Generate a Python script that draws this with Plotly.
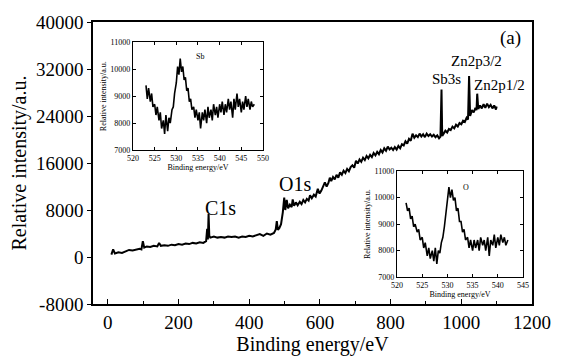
import plotly.graph_objects as go

# Main survey spectrum (binding energy eV, intensity a.u.)
energy = [10, 15, 20, 30, 40, 50, 60, 70, 80, 90, 95, 99, 103, 110, 120, 130, 140, 145, 150, 160,
          170, 180, 190, 200, 210, 220, 230, 240, 250, 260, 270, 278, 281, 283, 285, 287, 290, 300,
          310, 320, 330, 340, 350, 360, 370, 380, 390, 400, 410, 420, 430, 440, 450, 460, 470, 475,
          478, 481, 485, 490, 495, 499, 502, 506, 510, 515, 520, 523, 527, 532, 537, 543, 548, 553,
          558, 563, 568, 572, 577, 583, 588, 594, 599, 604, 609, 614, 619, 624, 628, 632, 637, 642,
          647, 652, 657, 662, 667, 672, 677, 682, 687, 692, 697, 702, 707, 712, 717, 722, 727, 732,
          737, 742, 747, 752, 757, 762, 767, 772, 777, 782, 787, 792, 797, 802, 807, 812, 817, 822,
          827, 832, 837, 842, 847, 852, 857, 862, 867, 872, 877, 882, 887, 892, 897, 902, 907, 912,
          917, 922, 927, 932, 937, 941, 944, 946, 950, 955, 960, 965, 970, 975, 980, 985, 990, 995,
          1000, 1005, 1010, 1015, 1019, 1022, 1025, 1030, 1035, 1040, 1043, 1045, 1048, 1053, 1058,
          1063, 1068, 1073, 1078, 1083, 1088, 1093, 1098, 1100]
intensity = [400, 1300, 600, 800, 700, 1000, 1200, 1100, 1300, 1400, 1300, 2700, 1600, 1800, 1700,
             1900, 1800, 2400, 1900, 2000, 1900, 2100, 2000, 2200, 2100, 2300, 2200, 2400, 2300, 2500,
             2400, 2700, 4800, 3000, 7300, 3600, 3300, 3500, 3300, 3400, 3300, 3500, 3400, 3500, 3300,
             3500, 3400, 3600, 3500, 3700, 3900, 3600, 4000, 3800, 4100, 4700, 6100, 4600, 4900, 5600,
             7600, 10100, 8000, 9700, 8300, 8900, 8500, 9800, 8700, 9300, 8800, 9400, 9000, 9700, 9300,
             9900, 9600, 10500, 10000, 10600, 10300, 11600, 10800, 11300, 11900, 12700, 12000, 12600,
             13500, 12900, 13600, 13200, 14000, 13500, 14400, 14000, 14700, 14300, 15000, 14600, 15300,
             15600, 15200, 16400, 15900, 16600, 16200, 16900, 16500, 17200, 16800, 17400, 17000, 17700,
             17300, 17900, 17500, 18200, 17800, 18500, 18100, 18800, 18300, 18600, 18200, 18700, 18300,
             18900, 18500, 19200, 19000, 19700, 19300, 20100, 19800, 21000, 20300, 20700, 20400, 21000,
             20500, 20900, 20400, 21000, 20600, 20900, 20500, 20800, 20400, 20700, 20200, 20500, 28500,
             20600, 21000, 21500, 21200, 21800, 21600, 22200, 21900, 22500, 22200, 22800, 22600, 23200,
             23000, 23700, 23400, 30800, 24000, 25000, 24600, 25400, 25000, 27800, 25200, 25800, 25300,
             26000, 25400, 26100, 25500, 25900, 25300, 25800, 25100, 25600]

# Sb inset
sb_energy = [523.0, 523.3, 523.6, 524.0, 524.3, 524.6, 525.0, 525.3, 525.6, 526.0, 526.3, 526.6, 527.0,
             527.3, 527.6, 528.0, 528.3, 528.6, 529.0, 529.3, 529.6, 530.0, 530.3, 530.6, 530.9, 531.2,
             531.5, 531.8, 532.1, 532.4, 532.7, 533.0, 533.3, 533.6, 534.0, 534.3, 534.6, 535.0, 535.3,
             535.6, 536.0, 536.3, 536.6, 537.0, 537.3, 537.6, 538.0, 538.3, 538.6, 539.0, 539.3, 539.6,
             540.0, 540.3, 540.6, 541.0, 541.3, 541.6, 542.0, 542.3, 542.6, 543.0, 543.3, 543.6, 544.0,
             544.3, 544.6, 545.0, 545.3, 545.6, 546.0, 546.3, 546.6, 547.0, 547.3, 547.6, 548.0]
sb_intensity = [9400, 8900, 9300, 8800, 9100, 8600, 8700, 8300, 8600, 8100, 8400, 7800, 8100, 7600,
                8300, 7700, 8200, 8000, 8500, 8600, 9100, 9500, 10100, 9800, 10400, 9900, 10100, 9600,
                9700, 9200, 9300, 8800, 8900, 8500, 8600, 8200, 8500, 8100, 8400, 7800, 8400, 8100, 8500,
                8000, 8600, 8200, 8500, 8100, 8700, 8300, 8600, 8200, 8700, 8400, 8800, 8300, 8700, 8400,
                8900, 8500, 8800, 8200, 8900, 8500, 9100, 8600, 8900, 8400, 8800, 8500, 9000, 8600, 8900,
                8500, 8800, 8600, 8700]

# O inset
o_energy = [521.8, 522.1, 522.4, 522.7, 523.0, 523.3, 523.6, 524.0, 524.3, 524.6, 525.0, 525.3, 525.6,
            526.0, 526.3, 526.6, 527.0, 527.3, 527.6, 527.9, 528.2, 528.5, 528.8, 529.1, 529.4, 529.7,
            530.0, 530.3, 530.6, 530.9, 531.2, 531.5, 531.8, 532.1, 532.4, 532.7, 533.0, 533.3, 533.6,
            534.0, 534.3, 534.6, 535.0, 535.3, 535.6, 536.0, 536.3, 536.6, 537.0, 537.3, 537.6, 538.0,
            538.3, 538.6, 539.0, 539.3, 539.6, 540.0, 540.3, 540.6, 541.0, 541.3, 541.6, 542.0]
o_intensity = [9800, 9500, 9600, 9200, 9300, 8900, 9000, 8700, 8800, 8400, 8500, 8100, 8300, 7800, 8100,
               7700, 8000, 7600, 8100, 7500, 8000, 7900, 8300, 8500, 8900, 9400, 9800, 10400, 10000,
               10300, 9900, 10000, 9500, 9600, 9100, 9100, 8700, 8800, 8400, 8500, 8100, 8400, 8000,
               8400, 8100, 8400, 8000, 8500, 8200, 8400, 8000, 8500, 7800, 8400, 8200, 8600, 8100, 8500,
               8200, 8600, 8300, 8500, 8200, 8400]

main_xticks = [0, 200, 400, 600, 800, 1000, 1200]
main_yticks = [-8000, 0, 8000, 16000, 24000, 32000, 40000]
main_ylabels = ["-8000", "0", "8000", "16000", "24000", "32000", "40000"]
inset_yticks = [7000, 8000, 9000, 10000, 11000]
inset_ylabels = ["7000", "8000", "9000", "10000", "11000"]
sb_xticks = [520, 525, 530, 535, 540, 545, 550]
o_xticks = [520, 525, 530, 535, 540, 545]

FONT = "Times New Roman, Liberation Serif, serif"
line = dict(color="black", width=2)

fig = go.Figure()
fig.add_trace(go.Scatter(x=energy, y=intensity, mode="lines", line=line, xaxis="x", yaxis="y"))
fig.add_trace(go.Scatter(x=sb_energy, y=sb_intensity, mode="lines", line=dict(color="black", width=1.6),
                         xaxis="x2", yaxis="y2"))
fig.add_trace(go.Scatter(x=o_energy, y=o_intensity, mode="lines", line=dict(color="black", width=1.6),
                         xaxis="x3", yaxis="y3"))

main_ax = dict(showline=True, linecolor="black", linewidth=1.5, mirror=True, showgrid=False,
               zeroline=False, tickcolor="black", tickfont=dict(family=FONT, size=19, color="black"))
inset_ax = dict(showline=True, linecolor="black", linewidth=1.2, mirror="ticks", showgrid=False,
                zeroline=False, ticks="inside", ticklen=3, tickcolor="black",
                tickfont=dict(family=FONT, size=8, color="black"))

fig.update_layout(
    width=564, height=363,
    margin=dict(l=93, r=32, t=12, b=58),
    paper_bgcolor="white", plot_bgcolor="white",
    showlegend=False,
    font=dict(family=FONT, color="black"),
    xaxis=dict(main_ax, domain=[0, 1], range=[-42, 1200], tickvals=main_xticks,
               ticktext=[str(v) for v in main_xticks], ticks="inside", ticklen=5, mirror=True,
               minor=dict(dtick=100, tick0=0, ticks="inside", ticklen=3, tickcolor="black"),
               title=dict(text="Binding energy/eV", font=dict(family=FONT, size=20), standoff=4)),
    yaxis=dict(main_ax, domain=[0, 1], range=[-8000, 40000], tickvals=main_yticks,
               ticktext=main_ylabels, ticks="outside", ticklen=4,
               title=dict(text="Relative intensity/a.u.", font=dict(family=FONT, size=20), standoff=4)),
    xaxis2=dict(inset_ax, domain=[0.0911, 0.3872], anchor="y2", range=[520, 550], tickvals=sb_xticks,
                ticktext=[str(v) for v in sb_xticks],
                title=dict(text="Binding energy/eV", font=dict(family=FONT, size=8), standoff=2)),
    yaxis2=dict(inset_ax, domain=[0.546, 0.928], anchor="x2", range=[7000, 11000], tickvals=inset_yticks,
                ticktext=inset_ylabels,
                title=dict(text="Relative intensity/a.u.", font=dict(family=FONT, size=8), standoff=2)),
    xaxis3=dict(inset_ax, domain=[0.6925, 0.9795], anchor="y3", range=[520, 545], tickvals=o_xticks,
                ticktext=[str(v) for v in o_xticks],
                title=dict(text="Binding energy/eV", font=dict(family=FONT, size=8), standoff=2)),
    yaxis3=dict(inset_ax, domain=[0.0956, 0.471], anchor="x3", range=[7000, 11000], tickvals=inset_yticks,
                ticktext=inset_ylabels,
                title=dict(text="Relative intensity/a.u.", font=dict(family=FONT, size=8), standoff=2)),
)

ann = [
    ("(a)", 1138, 37200, 19, "x", "y"),
    ("Zn2p3/2", 1042, 33400, 15, "x", "y"),
    ("Sb3s", 957, 30300, 15, "x", "y"),
    ("Zn2p1/2", 1107, 29300, 15, "x", "y"),
    ("C1s", 320, 8400, 20, "x", "y"),
    ("O1s", 529, 12500, 20, "x", "y"),
    ("Sb", 535.5, 10460, 8, "x2", "y2"),
    ("O", 533.7, 10380, 8, "x3", "y3"),
]
for text, ax, ay, size, xr, yr in ann:
    fig.add_annotation(text=text, x=ax, y=ay, xref=xr, yref=yr, showarrow=False,
                       font=dict(family=FONT, size=size, color="black"))

fig.write_html("out.html")
